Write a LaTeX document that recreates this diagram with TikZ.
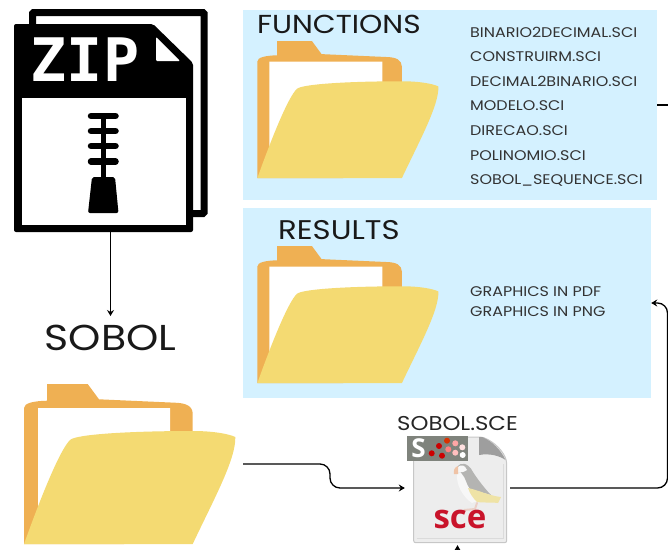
\documentclass[tikz,border=0pt]{standalone}
\usepackage{fontspec}
\setmainfont[FakeStretch=1.14]{Poppins}
\newfontfamily\zipfont{DejaVu Sans Mono}
\newfontfamily\scefont{Open Sans}
\usetikzlibrary{arrows.meta}

\definecolor{panelblue}{HTML}{D4F1FF}
\definecolor{folderback}{HTML}{EFB053}
\definecolor{folderfront}{HTML}{F4DA72}
\definecolor{scered}{HTML}{C9142B}
\definecolor{badgegrey}{HTML}{7F837C}
\definecolor{puffingrey}{HTML}{B4B4B2}
\definecolor{puffinbelly}{HTML}{EFE3A6}
\definecolor{puffinbeak}{HTML}{EFC3A6}
\definecolor{puffinfoot}{HTML}{EBCFC6}

\tikzset{
  panel/.style={fill=panelblue,draw=none,inner sep=0pt},
  heading/.style={anchor=west,inner sep=0pt,font=\fontsize{26}{28}\selectfont,text=black!90},
  filename/.style={anchor=west,inner sep=0pt,font=\fontsize{14}{16}\selectfont,text=black!80},
  holder/.style={draw=none,inner sep=0pt},
  conn/.style={draw=black,line width=1.3pt,-{Stealth[length=6pt,width=7pt,inset=2pt]}},
  pics/folderpic/.style={code={
    \fill[folderback] (0,160) -- (0,24) .. controls (0,19) and (10,17) .. (23,16.7) -- (23,0) -- (63.7,0) -- (75,15.3) -- (151,18.7)
      .. controls (162,19) and (168.7,22) .. (168.7,30) -- (168.7,60) -- (100,160) -- cycle;
    \fill[white] (14,24) -- (146,24) -- (146,70) -- (14,123) -- cycle;
    \fill[folderfront] (0,160) .. controls (18,110) and (36,66) .. (46,56) .. controls (52,50) and (110,47) .. (168.7,47)
      .. controls (190,47) and (205,50) .. (211.3,53) .. controls (212,75) and (190,115) .. (168.7,160) -- cycle;
  }}
}

\begin{document}
\begin{tikzpicture}[x=1pt,y=-1pt]
\useasboundingbox (0,0) rectangle (668,549);

\node[panel,minimum width=414,minimum height=190] (functionsbox) at (450,105) {};
\node[panel,minimum width=408,minimum height=190] (resultsbox) at (447,303) {};

\node[heading] (functionstitle) at (257,24) {FUNCTIONS};
\node[heading,font=\fontsize{27}{29}\selectfont] (resultstitle) at (278,230) {RESULTS};

\pic[scale=.857] at (257.3,41) {folderpic};
\pic[scale=.857] at (257.3,246) {folderpic};
\pic at (24,384) {folderpic};

\foreach \fname [count=\i] in {BINARIO2DECIMAL.SCI,CONSTRUIRM.SCI,DECIMAL2BINARIO.SCI,MODELO.SCI,DIRECAO.SCI,POLINOMIO.SCI,SOBOL\_SEQUENCE.SCI}
  \node[filename] (fn\i) at (470,32+\i*24.7-24.7) {\fname};
\node[filename] (graphicspdf) at (470,292) {GRAPHICS IN PDF};
\node[filename] (graphicspng) at (470,312) {GRAPHICS IN PNG};

% zip file
\draw[line width=7pt,fill=white,rounded corners=1pt] (32.5,12.5) rectangle (204,213.5);
\fill[black,rounded corners=2pt] (14,24) -- (153,24) -- (193,63) -- (193,232) -- (14,232) -- cycle;
\fill[white] (21.5,98) rectangle (185.5,225);
\fill[white,rounded corners=1pt] (156,37) -- (180,61) -- (156,61) -- cycle;
\node[inner sep=0pt,text=white,font=\zipfont\bfseries\fontsize{60}{60}\selectfont] (ziptext) at (85,60) {ZIP};
\draw[line width=5pt] (103.5,114) -- (103.5,180);
\foreach \ty in {116,131,146,161.5}
  \draw[line width=6.5pt,line cap=round] (91,\ty) -- (115.5,\ty);
\fill[black,rounded corners=2pt] (92,177) -- (115,177) -- (118.5,213) -- (88,213) -- cycle;

\node[holder,minimum width=179,minimum height=208] (zipfile) at (103.5,128) {};
\node[inner sep=0pt,font=\fontsize{36}{38}\selectfont,text=black!90] (sobol) at (110.5,338) {SOBOL};
\draw[conn,line width=1pt] (sobol |- zipfile.south) -- (sobol |- 0,316);

% sce file
\node[holder,minimum width=105,minimum height=112] (scefile) at (457.5,489) {};
\node[inner sep=0pt,font=\fontsize{20}{22}\selectfont,text=black!85] (scetitle) at (457.5,424) {SOBOL.SCE};
\draw[draw=black!22,fill=black!7,line width=1pt,rounded corners=2pt] (413.7,437) -- (482,437) .. controls (495,442) and (504,452) .. (506.7,462) -- (506.7,542.7) -- (413.7,542.7) -- cycle;
\draw[draw=black!14,line width=1pt] (416.5,538.5) -- (503.5,538.5) -- (503.5,464);
\fill[black!38] (479,437) -- (479,455) .. controls (490,453) and (500,456) .. (505.5,460) .. controls (501,450) and (492,441) .. (482,437) -- cycle;
\fill[black!3] (457,474) .. controls (456,485) and (463,497) .. (472,503) -- (480,500) -- (470,470) -- cycle;
\fill[puffingrey] (457,467) .. controls (460,462) and (468,462) .. (473,472) .. controls (478,480) and (486,490) .. (491,495) -- (470,489) .. controls (466,484) and (466,478) .. (462,474) -- cycle;
\fill[black!3] (458,467) .. controls (461,464) and (465,465) .. (467,470) .. controls (464,472) and (461,473) .. (458,472) -- cycle;
\fill[puffinbeak] (454,474) .. controls (453,470) and (455,467) .. (458,466) -- (458,474) -- cycle;
\fill[puffinbelly] (468,488) .. controls (478,490) and (490,496) .. (501,497) -- (498,503) .. controls (490,502) and (482,503) .. (477,502) .. controls (473,498) and (470,494) .. (468,488) -- cycle;
\draw[puffinfoot,line width=2pt,line cap=round] (477,503) -- (475,509) -- (464,510);
\fill[badgegrey] (407,436) rectangle (468,460.5);
\node[inner sep=0pt,text=white,font=\scefont\bfseries\fontsize{26}{26}\selectfont] (sbadge) at (418.5,448.5) {S};
\foreach \dx/\dy/\dc in {431.7/453.3/red!80!black,439/446/red!80!black,442/455.7/red!80!black,447/440.7/red!55!orange!85!black,448.3/449.3/red!50!white,455.3/452.7/red!25!white,455.3/443.3/red!35!white,462.3/447.3/red!12!white,462.7/455/white}
  \fill[\dc] (\dx,\dy) circle (3);
\node[inner sep=0pt,text=scered,font=\scefont\bfseries\fontsize{33}{33}\selectfont] (scetext) at (460,519) {sce};

% connectors
\node[holder,minimum width=219,minimum height=160] (bigfolder) at (133.5,464) {};
\coordinate (scebelow) at (457.5,560);
\coordinate (functionsout) at (680,105);
\draw[conn,rounded corners=10pt] (bigfolder.east) -- (330,464) -- (330,488) -- (scefile.west |- 0,488);
\draw[conn,rounded corners=10pt] (scefile.east |- 0,488) -- (667.5,488) -- (667.5,303) -- (resultsbox.east);
\draw[conn] (scebelow) -- (scefile.south);
\draw[line width=1.3pt] (functionsbox.east) -- (functionsout);
\end{tikzpicture}
\end{document}
